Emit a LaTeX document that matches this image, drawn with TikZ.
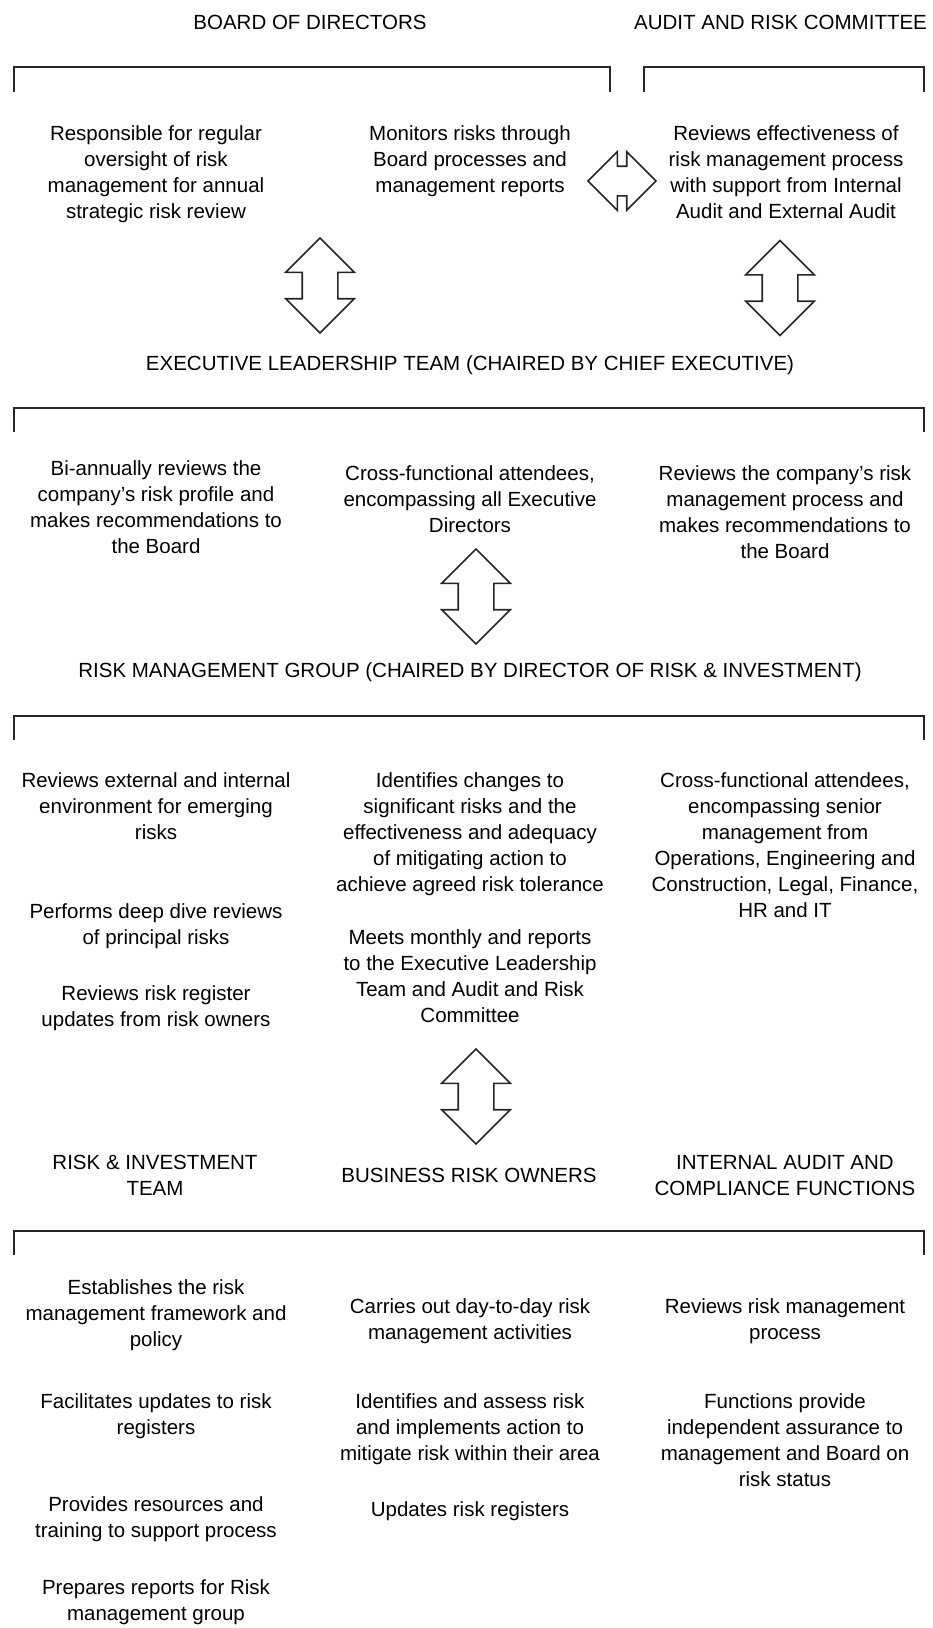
\documentclass[tikz,border=0pt]{standalone}
\usepackage{fontspec}
\setmainfont{Liberation Sans}
\usepackage{tikz}
\usetikzlibrary{shapes,arrows,positioning}

\begin{document}
\begin{tikzpicture}[x=1pt, y=-1pt,
    % Text and shape styles for the risk governance chart
    heading/.style={anchor=north, inner sep=0pt, align=center, font=\fontsize{20.5}{26}\selectfont},
    item/.style={anchor=north, inner sep=0pt, align=center, font=\fontsize{20.5}{26}\selectfont},
    bracket/.style={draw=black!85, line width=2pt},
    link/.style={double arrow, draw=black!85, line width=1.6pt, inner xsep=17pt, inner ysep=0pt,
        double arrow head extend=16.5pt, minimum width=67pt, minimum height=95pt,
        shape border rotate=90},
    sidelink/.style={double arrow, draw=black!85, line width=1.6pt, inner xsep=0pt, inner ysep=14pt,
        double arrow head extend=14.5pt, minimum width=57pt, minimum height=68pt}]

    \useasboundingbox (0,0) rectangle (933,1628);
    \fill[white] (0,0) rectangle (933,1628);

    % Board of Directors and Audit and Risk Committee
    \node [heading] (board) at (310,15) {BOARD OF DIRECTORS};
    \node [heading, anchor=north west] (audit) at (634,15) {AUDIT AND RISK COMMITTEE};
    \draw [bracket] (14,92) |- (610,67) -- (610,92);
    \draw [bracket] (644,92) |- (924,67) -- (924,92);

    \node [item] (board1) at (156,125) {Responsible for regular\\oversight of risk\\management for annual\\strategic risk review};
    \node [item] (board2) at (470,125) {Monitors risks through\\Board processes and\\management reports};
    \node [item] (audit1) at (786,125) {Reviews effectiveness of\\risk management process\\with support from Internal\\Audit and External Audit};

    % Links between the board, the committee and the executive team
    \node [sidelink] (boardaudit) at (622,181) {};
    \node [link] (boardlink) at (320,285.5) {};
    \node [link] (auditlink) at (780,288) {};

    % Executive Leadership Team
    \node [heading] (exec) at (470,355) {EXECUTIVE LEADERSHIP TEAM (CHAIRED BY CHIEF EXECUTIVE)};
    \draw [bracket] (14,432) |- (924,408) -- (924,432);

    \node [item] (exec1) at (156,460) {Bi-annually reviews the\\company's risk profile and\\makes recommendations to\\the Board};
    \node [item] (exec2) at (470,465) {Cross-functional attendees,\\encompassing all Executive\\Directors};
    \node [item] (exec3) at (785,465) {Reviews the company's risk\\management process and\\makes recommendations to\\the Board};

    \node [link] (execlink) at (476,596.5) {};

    % Risk Management Group
    \node [heading] (rmg) at (470,662) {RISK MANAGEMENT GROUP (CHAIRED BY DIRECTOR OF RISK \& INVESTMENT)};
    \draw [bracket] (14,740) |- (924,716) -- (924,740);

    \node [item] (rmg1) at (156,772) {Reviews external and internal\\environment for emerging\\risks};
    \node [item] (rmg2) at (156,903) {Performs deep dive reviews\\of principal risks};
    \node [item] (rmg3) at (156,985) {Reviews risk register\\updates from risk owners};
    \node [item] (rmg4) at (470,772) {Identifies changes to\\significant risks and the\\effectiveness and adequacy\\of mitigating action to\\achieve agreed risk tolerance};
    \node [item] (rmg5) at (470,929) {Meets monthly and reports\\to the Executive Leadership\\Team and Audit and Risk\\Committee};
    \node [item] (rmg6) at (785,772) {Cross-functional attendees,\\encompassing senior\\management from\\Operations, Engineering and\\Construction, Legal, Finance,\\HR and IT};

    \node [link] (rmglink) at (476,1096.5) {};

    % Risk & Investment Team, Business Risk Owners, Internal Audit
    \node [heading] (team) at (155,1155) {RISK \& INVESTMENT\\TEAM};
    \node [heading] (owners) at (469,1168) {BUSINESS RISK OWNERS};
    \node [heading] (internal) at (785,1155) {INTERNAL AUDIT AND\\COMPLIANCE FUNCTIONS};
    \draw [bracket] (14,1255) |- (924,1231) -- (924,1255);

    \node [item] (team1) at (156,1279) {Establishes the risk\\management framework and\\policy};
    \node [item] (team2) at (156,1393) {Facilitates updates to risk\\registers};
    \node [item] (team3) at (156,1496) {Provides resources and\\training to support process};
    \node [item] (team4) at (156,1579) {Prepares reports for Risk\\management group};
    \node [item] (owner1) at (470,1298) {Carries out day-to-day risk\\management activities};
    \node [item] (owner2) at (470,1393) {Identifies and assess risk\\and implements action to\\mitigate risk within their area};
    \node [item] (owner3) at (470,1501) {Updates risk registers};
    \node [item] (internal1) at (785,1298) {Reviews risk management\\process};
    \node [item] (internal2) at (785,1393) {Functions provide\\independent assurance to\\management and Board on\\risk status};

\end{tikzpicture}
\end{document}
